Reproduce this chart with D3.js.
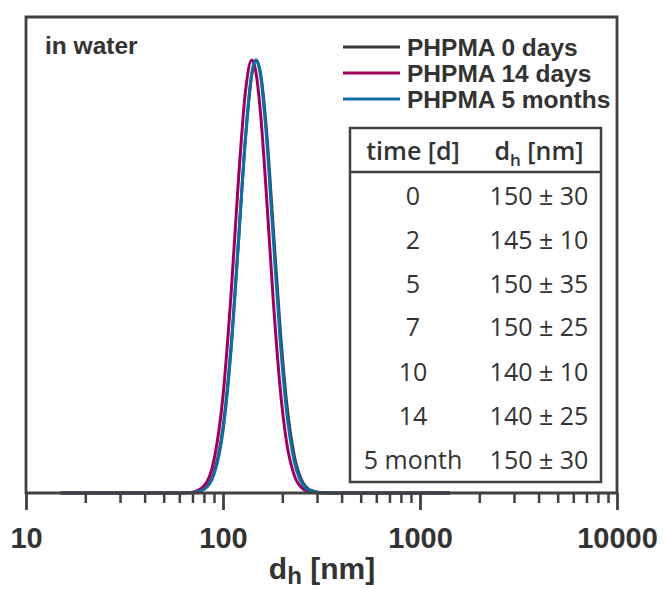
<!DOCTYPE html>
<html>
<head>
<meta charset="utf-8">
<script src="https://cdn.jsdelivr.net/npm/d3@7"></script>
<style>
  html, body { margin: 0; padding: 0; background: #fff; }
  svg { display: block; }
</style>
</head>
<body>
<svg id="chart" width="665" height="590"></svg>
<script>
// ---- data ----
const sizes = [15, 30, 50, 60, 70, 80, 90, 100, 110, 120, 130, 140, 147, 155, 165, 180, 195, 210, 230, 250, 280, 320, 400, 600, 1000, 1420];
const black0d   = [0, 0, 0, 0, 0.1, 0.9, 4.7, 15.2, 34.1, 58.7, 81.8, 96.6, 100, 97.0, 85.6, 61.1, 38.0, 21.2, 8.6, 3.1, 0.6, 0.06, 0, 0, 0, 0];
const magenta14d = [0, 0, 0, 0, 0.2, 1.6, 7.6, 22.4, 46.2, 72.8, 92.7, 100, 97.1, 87.8, 70.9, 44.4, 24.3, 11.9, 4.1, 1.3, 0.2, 0, 0, 0, 0, 0];
const blue5m    = [0, 0, 0, 0, 0.07, 0.8, 4.3, 14.3, 33.3, 58.3, 82.0, 96.9, 100, 96.5, 84.1, 58.7, 35.4, 19.1, 7.35, 2.5, 0.45, 0.04, 0, 0, 0, 0];

const seriesNames = ["PHPMA 0 days", "PHPMA 14 days", "PHPMA 5 months"];
const seriesColors = ["#383838", "#a0005c", "#0f6ea8"];

const majorTicks = [10, 100, 1000, 10000];
const majorLabels = ["10", "100", "1000", "10000"];

const tableTimes = ["0", "2", "5", "7", "10", "14", "5 month"];
const tableDh = ["150 ± 30", "145 ± 10", "150 ± 35", "150 ± 25", "140 ± 10", "140 ± 25", "150 ± 30"];

(function () {
// ---- layout ----
const svg = d3.select("#chart");
const W = 665, H = 590;
const pL = 26, pR = 617, pT = 17, base = 493, peakY = 60;
const frameColor = "#404040";
const textColor = "#333333";

svg.append("rect").attr("width", W).attr("height", H).attr("fill", "#fff");

const x = d3.scaleLog().domain([10, 10000]).range([pL, pR]);
const y = d3.scaleLinear().domain([0, 100]).range([base, peakY]);

// curves
const series = [black0d, magenta14d, blue5m];
const line = d3.line()
  .x(d => x(d[0]))
  .y(d => y(d[1]))
  .curve(d3.curveMonotoneX);

series.forEach((vals, i) => {
  const pts = sizes.map((s, k) => [s, vals[k]]);
  svg.append("path")
    .attr("d", line(pts))
    .attr("fill", "none")
    .attr("stroke", seriesColors[i])
    .attr("stroke-width", 3)
    .attr("stroke-linejoin", "round");
});

// minor ticks
const minorTicks = [];
for (let e = 1; e < 4; e++) {
  for (let m = 2; m <= 9; m++) minorTicks.push(m * Math.pow(10, e));
}
const minorAxis = d3.axisBottom(x).tickValues(minorTicks).tickSize(10).tickFormat("");
const gMinor = svg.append("g").attr("transform", `translate(0,${base})`).call(minorAxis);
gMinor.select(".domain").remove();
gMinor.selectAll("line").attr("stroke", frameColor).attr("stroke-width", 2.5);

const majorAxis = d3.axisBottom(x).tickValues(majorTicks).tickSize(17).tickPadding(17)
  .tickFormat((d, i) => majorLabels[i]);
const gMajor = svg.append("g").attr("transform", `translate(0,${base})`).call(majorAxis);
gMajor.select(".domain").remove();
gMajor.selectAll("line").attr("stroke", frameColor).attr("stroke-width", 2.8);
gMajor.selectAll("text")
  .attr("fill", textColor)
  .style("font-family", "'Liberation Sans', Arial, sans-serif")
  .style("font-weight", "bold")
  .style("font-size", "29px");

// frame
svg.append("path")
  .attr("d", `M${pL},${base} L${pL},${pT} L${pR},${pT} L${pR},${base} Z`)
  .attr("fill", "none")
  .attr("stroke", frameColor)
  .attr("stroke-width", 2.8);

// axis title
const title = svg.append("text")
  .attr("x", 322).attr("y", 579)
  .attr("text-anchor", "middle")
  .attr("fill", textColor)
  .style("font-family", "'Liberation Sans', Arial, sans-serif")
  .style("font-weight", "bold")
  .style("font-size", "30px");
title.append("tspan").text("d");
title.append("tspan").attr("dy", 5).style("font-size", "24px").text("h");
title.append("tspan").attr("dy", -5).text(" [nm]");

// "in water"
svg.append("text")
  .attr("x", 45).attr("y", 54)
  .attr("fill", textColor)
  .style("font-family", "'Liberation Sans', Arial, sans-serif")
  .style("font-weight", "bold")
  .style("font-size", "24.5px")
  .text("in water");

// legend
const legY = [47, 73, 99];
seriesNames.forEach((name, i) => {
  svg.append("line")
    .attr("x1", 343).attr("x2", 400)
    .attr("y1", legY[i]).attr("y2", legY[i])
    .attr("stroke", seriesColors[i]).attr("stroke-width", 3);
  svg.append("text")
    .attr("x", 407).attr("y", legY[i] + 9)
    .attr("fill", textColor)
    .style("font-family", "'Liberation Sans', Arial, sans-serif")
    .style("font-weight", "bold")
    .style("font-size", "24.5px")
    .text(name);
});

// table
const tL = 350, tR = 601, tT = 128, tB = 482, tHead = 172;
svg.append("rect")
  .attr("x", tL).attr("y", tT).attr("width", tR - tL).attr("height", tB - tT)
  .attr("fill", "#fff").attr("stroke", frameColor).attr("stroke-width", 2.5);
svg.append("line")
  .attr("x1", tL).attr("x2", tR).attr("y1", tHead).attr("y2", tHead)
  .attr("stroke", frameColor).attr("stroke-width", 2.5);

const col1 = 413, col2 = 539;
const tableFont = "'Open Sans', 'Noto Sans', sans-serif";
svg.append("text")
  .attr("x", col1).attr("y", 160)
  .attr("text-anchor", "middle").attr("fill", textColor)
  .style("font-family", tableFont).style("font-weight", 600).style("font-size", "25px")
  .text("time [d]");
const hd = svg.append("text")
  .attr("x", col2).attr("y", 160)
  .attr("text-anchor", "middle").attr("fill", textColor)
  .style("font-family", tableFont).style("font-weight", 600).style("font-size", "25px");
hd.append("tspan").text("d");
hd.append("tspan").attr("dy", 6).style("font-size", "17px").text("h");
hd.append("tspan").attr("dy", -6).text(" [nm]");

const rowY = [196, 240, 284, 327, 372, 416, 460];
tableTimes.forEach((t, i) => {
  svg.append("text")
    .attr("x", col1).attr("y", rowY[i] + 9)
    .attr("text-anchor", "middle").attr("fill", textColor)
    .style("font-family", tableFont).style("font-size", "25px")
    .text(t);
  svg.append("text")
    .attr("x", col2).attr("y", rowY[i] + 9)
    .attr("text-anchor", "middle").attr("fill", textColor)
    .style("font-family", tableFont).style("font-size", "25px")
    .text(tableDh[i]);
});
})();
</script>
</body>
</html>
